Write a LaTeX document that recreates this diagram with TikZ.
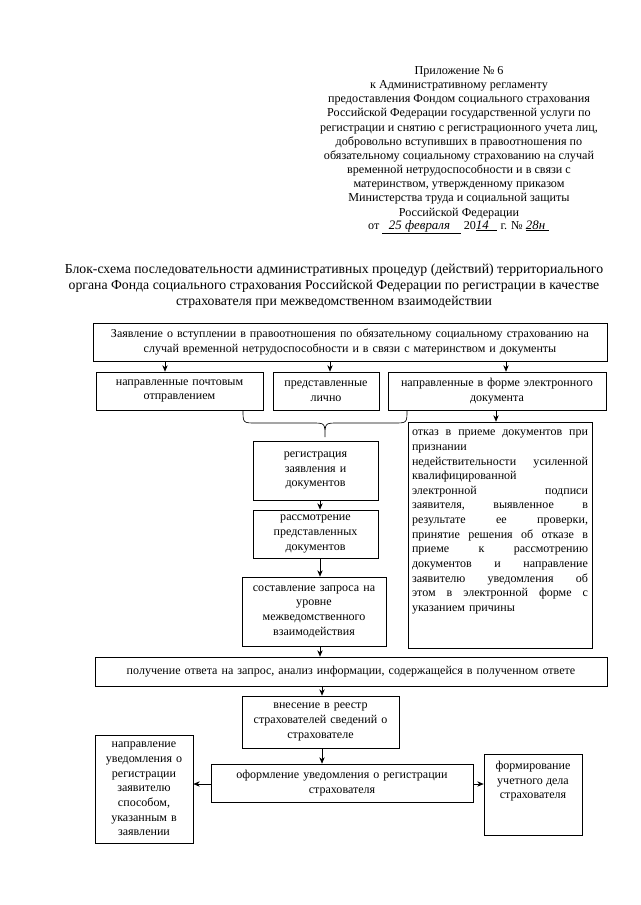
\documentclass[tikz,border=0pt]{standalone}
\usepackage{fontspec}
\setmainfont{Liberation Serif}
\usetikzlibrary{arrows.meta}
\newcommand\fs{\fontsize{11.2}{13.6}\selectfont}
\newcommand\jl[1]{\leavevmode\hbox to \hsize{#1}}
\newcommand\bx[7]{%
  \pgfmathsetlengthmacro\bw{(#4-#2)*0.9302pt}%
  \pgfmathsetlengthmacro\bh{(#5-#3)*0.9302pt}%
  \pgfmathsetlengthmacro\tw{#6*0.9302pt}%
  \node[box, minimum width=\bw, minimum height=\bh, text width=\tw] (#1) at ({(#2+#4)/2},{(#3+#5)/2}) {#7};%
}
\begin{document}
\begin{tikzpicture}[x=0.9302pt,y=-0.9302pt,
  box/.style={draw, line width=0.6pt, inner sep=0pt, align=center, font=\fs},
  plain/.style={inner sep=0pt, font=\fs},
  arr/.style={-{Stealth[length=6pt,width=5pt]}, line width=0.6pt},
  line/.style={line width=0.6pt}]
\useasboundingbox[fill=white] (0,0) rectangle (640,905);

% header
\node[plain, align=center, anchor=north, font=\fontsize{11.3}{13.2}\selectfont] (hdr) at (459,66) {Приложение № 6\\
к Административному регламенту\\
предоставления Фондом социального страхования\\
Российской Федерации государственной услуги по\\
регистрации и снятию с регистрационного учета лиц,\\
добровольно вступивших в правоотношения по\\
обязательному социальному страхованию на случай\\
временной нетрудоспособности и в связи с\\
материнством, утвержденному приказом\\
Министерства труда и социальной защиты\\
Российской Федерации};
\node[plain, anchor=west, font=\fontsize{11.3}{13.2}\selectfont] (date) at (368,227) {от \underline{\hspace{6pt}\textit{\large 25 февраля}\hspace{10pt}} 20\underline{\textit{\large 14}\hspace{8pt}} г. № \underline{\textit{\large 28н}\hspace{4pt}}};

% title
\node[plain, align=center, font=\fontsize{12.8}{14.8}\selectfont] (title) at (334,286) {Блок-схема последовательности административных процедур (действий) территориального\\
органа Фонда социального страхования Российской Федерации по регистрации в качестве\\
страхователя при межведомственном взаимодействии};

% boxes
\bx{top}{93}{323}{607}{361}{505}{Заявление о вступлении в правоотношения по обязательному социальному страхованию на\\ случай временной нетрудоспособности и в связи с материнством и документы}
\bx{b1}{96}{372}{263}{410}{160}{направленные почтовым\\ отправлением}
\bx{b2}{273}{372}{379}{410}{100}{представленные\\ лично}
\bx{b3}{388}{372}{606}{410}{210}{направленные в форме электронного\\ документа}
\bx{reg}{253}{441}{378}{500}{118}{регистрация\\ заявления и\\ документов}
\bx{rass}{253}{510}{378}{558}{118}{рассмотрение\\ представленных\\ документов}
\bx{sost}{242}{577}{386}{646}{136}{составление запроса на\\ уровне\\ межведомственного\\ взаимодействия}
\bx{pol}{95}{657}{607}{686}{505}{получение ответа на запрос, анализ информации, содержащейся в полученном ответе}
\bx{vnes}{242}{696}{399}{748}{152}{внесение в реестр\\ страхователей сведений о\\ страхователе}
\bx{ofor}{211}{764}{473}{802}{255}{оформление уведомления о регистрации\\ страхователя}
\bx{napr}{95}{735}{193}{843}{96}{направление\\ уведомления о\\ регистрации\\ заявителю\\ способом,\\ указанным в\\ заявлении}
\bx{form}{484}{754}{582}{835}{96}{}
\node[plain, align=center, anchor=north] (formtxt) at (533,761) {формирование\\ учетного дела\\ страхователя};
\bx{otk}{408}{422}{592}{648}{176}{}
\node[plain, anchor=north, text width=176*0.9302pt, align=left] (otktxt) at (500,430) {%
\jl{отказ\hfill в\hfill приеме\hfill документов\hfill при}\\
признании\\
\jl{недействительности\hfill усиленной}\\
квалифицированной\\
\jl{электронной\hfill подписи}\\
\jl{заявителя,\hfill выявленное\hfill в}\\
\jl{результате\hfill ее\hfill проверки,}\\
\jl{принятие\hfill решения\hfill об\hfill отказе\hfill в}\\
\jl{приеме\hfill к\hfill рассмотрению}\\
\jl{документов\hfill и\hfill направление}\\
\jl{заявителю\hfill уведомления\hfill об}\\
\jl{этом\hfill в\hfill электронной\hfill форме\hfill с}\\
указанием причины};

% arrows
\coordinate (c1) at (165,0);
\coordinate (c2) at (330,0);
\coordinate (c3) at (506,0);
\coordinate (c4) at (496,0);
\coordinate (c5) at (320,0);
\coordinate (c6) at (322,0);
\draw[arr] (top.south -| c1) -- (b1.north -| c1);
\draw[arr] (top.south -| c2) -- (b2.north -| c2);
\draw[arr] (top.south -| c3) -- (b3.north -| c3);
\draw[arr] (b3.south -| c4) -- (otk.north -| c4);
\draw[arr] (reg.south -| c5) -- (rass.north -| c5);
\draw[arr] (rass.south -| c5) -- (sost.north -| c5);
\draw[arr] (sost.south -| c5) -- (pol.north -| c5);
\draw[arr] (pol.south -| c6) -- (vnes.north -| c6);
\draw[arr] (vnes.south -| c6) -- (ofor.north -| c6);
\draw[arr] (ofor.west |- 0,784) -- (napr.east |- 0,784);
\draw[arr] (ofor.east |- 0,784) -- (form.west |- 0,784);

% brace
\coordinate (brL) at (243,410);
\coordinate (brR) at (407,410);
\coordinate (brT) at (325,437);
\draw[line] (brL) .. controls (243,423) .. (256,423) -- (312,423)
  .. controls (325,423) .. (brT) .. controls (325,423) .. (338,423)
  -- (394,423) .. controls (407,423) .. (brR);
\end{tikzpicture}
\end{document}
